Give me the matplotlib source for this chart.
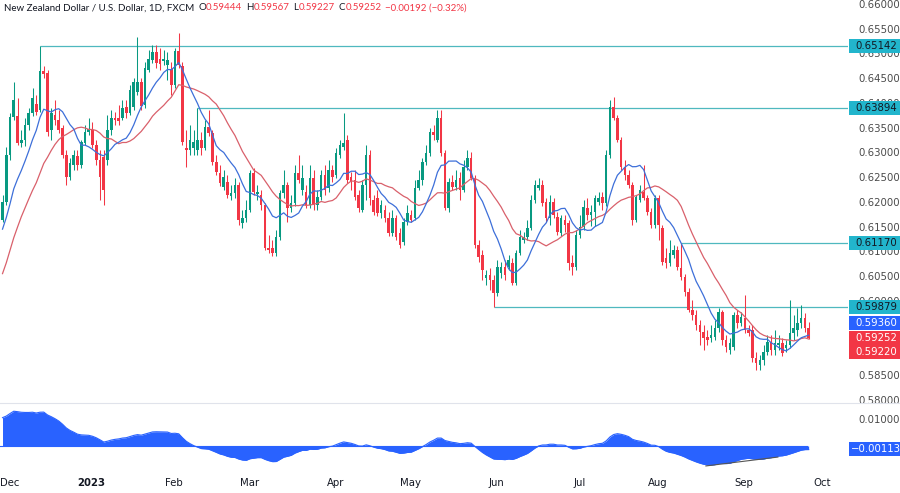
import numpy as np
import pandas as pd
import matplotlib
matplotlib.use("Agg")
import matplotlib.pyplot as plt
from matplotlib import transforms
from matplotlib.patches import Rectangle

plt.rcParams['font.family'] = ['DejaVu Sans']

# ---------------- data ----------------
start_date = "2022-11-30"

opens = [
 .6164,.6200,.6295,.6372,.6374,.6319,.6325,.6356,.6380,.6398,
 .6386,.6465,.6461,.6345,.6376,.6366,.6349,.6295,.6250,.6275,
 .6293,.6275,.6319,.6341,.6345,.6315,.6285,.6291,.6285,.6345,
 .6370,.6370,.6370,.6392,.6380,.6392,.6422,.6442,.6396,.6467,
 .6487,.6503,.6489,.6485,.6477,.6469,.6436,.6505,.6475,.6309,
 .6305,.6309,.6305,.6325,.6309,.6351,.6339,.6281,.6259,.6230,
 .6240,.6212,.6218,.6234,.6158,.6168,.6184,.6259,.6216,.6214,
 .6194,.6107,.6107,.6097,.6129,.6218,.6234,.6188,.6198,.6259,
 .6224,.6220,.6194,.6248,.6194,.6210,.6255,.6228,.6265,.6255,
 .6295,.6311,.6325,.6250,.6244,.6214,.6184,.6234,.6295,.6204,
 .6208,.6178,.6184,.6168,.6137,.6168,.6137,.6119,.6160,.6174,
 .6168,.6228,.6244,.6281,.6299,.6341,.6325,.6370,.6299,.6188,
 .6240,.6230,.6248,.6224,.6271,.6289,.6248,.6113,.6093,.6046,
 .6053,.6042,.6016,.6057,.6069,.6069,.6077,.6036,.6097,.6123,
 .6129,.6147,.6204,.6228,.6234,.6200,.6168,.6200,.6170,.6137,
 .6164,.6158,.6077,.6069,.6133,.6149,.6188,.6174,.6180,.6200,
 .6210,.6198,.6295,.6392,.6370,.6325,.6271,.6255,.6234,.6164,
 .6204,.6220,.6208,.6180,.6153,.6208,.6147,.6087,.6077,.6093,
 .6103,.6067,.6048,.6018,.5982,.5972,.5952,.5937,.5927,.5925,
 .5927,.5945,.5978,.5921,.5901,.5907,.5972,.5956,.5966,.5941,
 .5941,.5885,.5871,.5881,.5897,.5917,.5901,.5911,.5915,.5905,
 .5911,.5935,.5941,.5956,.5966,.59444]

closes = [
 .6200,.6295,.6372,.6406,.6319,.6325,.6356,.6380,.6410,.6382,
 .6465,.6459,.6341,.6380,.6366,.6345,.6295,.6250,.6279,.6295,
 .6275,.6321,.6341,.6347,.6315,.6285,.6250,.6224,.6345,.6370,
 .6366,.6364,.6390,.6380,.6426,.6442,.6442,.6394,.6471,.6489,
 .6503,.6481,.6479,.6489,.6487,.6436,.6505,.6477,.6321,.6305,
 .6325,.6321,.6325,.6309,.6351,.6339,.6281,.6261,.6238,.6250,
 .6214,.6218,.6234,.6164,.6168,.6184,.6259,.6220,.6220,.6194,
 .6107,.6103,.6097,.6129,.6218,.6234,.6188,.6198,.6259,.6244,
 .6248,.6194,.6248,.6194,.6210,.6255,.6224,.6265,.6250,.6299,
 .6315,.6319,.6244,.6240,.6210,.6188,.6234,.6295,.6208,.6180,
 .6178,.6194,.6168,.6137,.6168,.6129,.6113,.6160,.6178,.6164,
 .6228,.6244,.6281,.6299,.6341,.6335,.6370,.6299,.6188,.6240,
 .6230,.6244,.6224,.6271,.6289,.6248,.6113,.6089,.6063,.6053,
 .6042,.6016,.6069,.6069,.6053,.6083,.6036,.6097,.6129,.6129,
 .6147,.6204,.6234,.6234,.6198,.6168,.6200,.6174,.6139,.6168,
 .6153,.6077,.6069,.6133,.6149,.6190,.6174,.6180,.6208,.6208,
 .6198,.6295,.6392,.6370,.6325,.6271,.6255,.6234,.6164,.6210,
 .6224,.6208,.6180,.6153,.6208,.6153,.6079,.6077,.6097,.6103,
 .6069,.6048,.6018,.5982,.5972,.5952,.5937,.5925,.5921,.5931,
 .5945,.5978,.5921,.5907,.5915,.5972,.5956,.5968,.5941,.5935,
 .5885,.5875,.5881,.5897,.5917,.5901,.5915,.5915,.5895,.5911,
 .5935,.5945,.5956,.5966,.5945,.59252]

highs = [
 .6214,.6311,.6380,.6442,.6410,.6345,.6370,.6390,.6430,.6416,
 .65142,.6475,.6467,.6390,.6406,.6386,.6356,.6305,.6289,.6305,
 .6305,.6325,.6356,.6370,.6362,.6325,.6305,.6305,.6376,.6386,
 .6382,.6396,.6406,.6406,.6436,.6450,.6533,.6450,.6483,.6507,
 .6517,.6517,.6511,.6507,.6503,.6483,.6511,.6541,.6483,.6345,
 .6356,.6345,.63894,.6341,.6366,.6386,.6345,.6295,.6275,.6265,
 .6255,.6234,.6248,.6240,.6184,.6204,.6265,.6269,.6234,.6224,
 .6198,.6133,.6123,.6143,.6224,.6265,.6240,.6214,.6275,.6295,
 .6275,.6234,.6275,.6265,.6224,.6265,.6275,.6285,.6275,.6309,
 .6325,.6380,.6335,.6261,.6265,.6224,.6244,.6315,.6305,.6214,
 .6224,.6204,.6194,.6180,.6184,.6174,.6147,.6168,.6194,.6184,
 .6244,.6265,.6289,.6315,.6349,.6356,.6386,.6386,.6305,.6248,
 .6255,.6265,.6261,.6285,.6305,.6301,.6255,.6123,.6103,.6063,
 .6067,.6053,.6083,.6079,.6083,.6093,.6087,.6103,.6143,.6139,
 .6164,.6214,.6244,.6248,.6244,.6208,.6214,.6208,.6180,.6174,
 .6174,.6164,.6093,.6143,.6174,.6204,.6208,.6194,.6214,.6220,
 .6220,.6305,.6406,.6412,.6376,.6331,.6285,.6265,.6240,.6214,
 .6234,.6275,.6214,.6188,.6214,.6214,.6153,.6107,.6123,.6113,
 .6111,.6117,.6055,.6026,.6002,.5982,.5962,.5952,.5941,.5952,
 .5962,.5986,.5982,.5931,.5925,.5978,.5982,.5978,.6012,.5952,
 .5952,.5897,.5891,.5911,.5931,.5931,.5941,.5931,.5925,.5921,
 .6002,.5972,.5986,.5992,.5976,.59567]

lows = [
 .6160,.6194,.6285,.6366,.6315,.6311,.6313,.6345,.6374,.6376,
 .6382,.6450,.6333,.6325,.6356,.6339,.6289,.6234,.6244,.6265,
 .6265,.6269,.6315,.6335,.6309,.6275,.6204,.6194,.6275,.6335,
 .6356,.6356,.6366,.6370,.6376,.6386,.6416,.6386,.6390,.6463,
 .6481,.6471,.6467,.6477,.6446,.6416,.6430,.6471,.6315,.6271,
 .6295,.6295,.6295,.6295,.6305,.6333,.6275,.6255,.6232,.6224,
 .6208,.6204,.6208,.6153,.6147,.6160,.6180,.6214,.6204,.6184,
 .6103,.6097,.6091,.6091,.6123,.6208,.6160,.6180,.6192,.6238,
 .6214,.6188,.6188,.6184,.6184,.6204,.6214,.6220,.6240,.6248,
 .6289,.6305,.6238,.6224,.6204,.6180,.6180,.6204,.6194,.6174,
 .6172,.6168,.6160,.6131,.6131,.6123,.6107,.6113,.6153,.6160,
 .6164,.6224,.6234,.6275,.6293,.6325,.6321,.6293,.6184,.6180,
 .6224,.6224,.6204,.6220,.6265,.6244,.6107,.6079,.6042,.6032,
 .6022,.59879,.6010,.6046,.6042,.6063,.6032,.6032,.6093,.6117,
 .6123,.6143,.6198,.6224,.6192,.6160,.6153,.6168,.6133,.6131,
 .6139,.6063,.6053,.6063,.6127,.6143,.6164,.6151,.6151,.6194,
 .6184,.6192,.6289,.6366,.6321,.6265,.6244,.6228,.6153,.6160,
 .6200,.6204,.6174,.6147,.6147,.6123,.6073,.6067,.6071,.6087,
 .6063,.6042,.6010,.5978,.5962,.5941,.5911,.5901,.5911,.5917,
 .5921,.5937,.5911,.5897,.5893,.5901,.5945,.5950,.5935,.5929,
 .5877,.5861,.5861,.5871,.5891,.5891,.5891,.5901,.5889,.5897,
 .5905,.5921,.5929,.5945,.5937,.59227]

# closes before the visible window (only used to warm up the indicators)
pre_closes = [.5680,.5650,.5700,.5720,.5690,.5750,.5790,.5810,.5830,.5800,.5820,
              .5861,.5871,.5891,.5891,.5911,.5992,.6022,.6063,.6073,.6079,.6063,
              .6093,.6103,.6123,.6153,.6164,.6174,.6184,.6194]

level_values = [0.65142, 0.63894, 0.61170, 0.59879]
level_start_bar = [10, 52, 181, 131]

ma_fast_last = 0.59360
ma_slow_last = 0.59220
osc_last = -0.00113

# 0.590 / 0.595 are hidden behind the last-value badges in the reference
price_ticks = [0.58, 0.585, 0.60, 0.605, 0.61, 0.615, 0.62, 0.625,
               0.63, 0.635, 0.64, 0.645, 0.65, 0.655, 0.66]

title_name = "New Zealand Dollar / U.S. Dollar, 1D, FXCM"
ohlc_text = [("O", "0.59444"), ("H", "0.59567"), ("L", "0.59227"), ("C", "0.59252")]
change_text = "\u22120.00192 (\u22120.32%)"

# divergence trend line in the oscillator panel (bar index, value)
div_x = [187.6, 206.8]
div_y = [-0.0074, -0.0041]

# ---------------- styling ----------------
UP = "#089981"
DOWN = "#f23645"
TEAL = "#4fb8bf"
BADGE = "#22b5cc"
BLUE = "#2962ff"
TXT = "#131722"
GREY = "#4a4a4a"

W, H = 900, 493
fig = plt.figure(figsize=(W / 100, H / 100), dpi=100)
fig.patch.set_facecolor("white")
ax = fig.add_axes([0, 90 / H, 848 / W, 403 / H])
axo = fig.add_axes([0, 23 / H, 848 / W, 67 / H], sharex=ax)

o = np.array(opens); h = np.array(highs); l = np.array(lows); c = np.array(closes)
n = len(c)
x = np.arange(n)
dates = pd.bdate_range(start_date, periods=n)

up = c >= o
cols = np.where(up, UP, DOWN)
body_lo = np.minimum(o, c)
body_hi = np.maximum(o, c)
body_h = np.maximum(body_hi - body_lo, 0.00012)

ax.vlines(x, np.minimum(l, body_lo), np.maximum(h, body_hi), colors=cols, lw=0.75, zorder=3)
ax.bar(x, body_h, bottom=body_lo, width=0.68, color=cols, lw=0, zorder=4)

# moving averages
allc = pd.Series(pre_closes + closes)
npre = len(pre_closes)
sma_fast = allc.rolling(10).mean().values[npre:]
sma_slow = allc.rolling(20).mean().values[npre:]
ax.plot(x, sma_slow, color="#d9606b", lw=0.9, zorder=5)
ax.plot(x, sma_fast, color="#3d6fd9", lw=0.9, zorder=5)

# horizontal levels
for v, s in zip(level_values, level_start_bar):
    ax.hlines(v, s, n + 40, color=TEAL, lw=0.9, zorder=2)

ax.set_xlim(-0.67, 225.5)
ax.set_ylim(0.57939, 0.6608)
for sp in ax.spines.values():
    sp.set_visible(False)
ax.yaxis.tick_right()
ax.set_yticks(price_ticks)
ax.set_yticklabels([f"{t:.5f}" for t in price_ticks])
ax.tick_params(axis="y", length=0, pad=7.5, labelsize=7.3, labelcolor=GREY)
ax.tick_params(axis="x", length=0, labelbottom=False)

# oscillator (MACD line 12/26 drawn as area)
ema12 = allc.ewm(span=12, adjust=False).mean()
ema26 = allc.ewm(span=26, adjust=False).mean()
macd = (ema12 - ema26).values[npre:]
axo.fill_between(x, macd, 0, color=BLUE, lw=0, zorder=2)
axo.plot(x, macd, color=BLUE, lw=0.8, zorder=3)
axo.axhline(0, color=BLUE, lw=0.8, zorder=3, xmax=(n - 0.67) / 226.17)
axo.plot(div_x, div_y, color="#555555", lw=0.8, zorder=4)
axo.set_ylim(-0.0089, 0.01595)
for sp in axo.spines.values():
    sp.set_visible(False)
axo.yaxis.tick_right()
axo.set_yticks([0.01])
axo.set_yticklabels(["0.01000"])
axo.tick_params(axis="y", length=0, pad=7.5, labelsize=7.3, labelcolor=GREY)

# month labels
month_pos, month_lab = [], []
for i in range(1, n):
    if dates[i].month != dates[i - 1].month:
        month_pos.append(i + 0.8)
        month_lab.append("2023" if dates[i].month == 1 else dates[i].strftime("%b"))
month_pos.append(n + 2.5)
month_lab.append((dates[-1] + pd.offsets.MonthBegin(1)).strftime("%b"))
axo.set_xticks(month_pos)
axo.set_xticklabels(month_lab)
axo.tick_params(axis="x", length=0, pad=6, labelsize=7.3, labelcolor=TXT)
for t in axo.get_xticklabels():
    if t.get_text() == "2023":
        t.set_fontweight("bold")

# panel separator
fig.add_artist(plt.Line2D([0, 1], [1 - 403 / H, 1 - 403 / H], color="#e0e3eb", lw=0.8,
                          transform=fig.transFigure))

# badges on the price scale
def badge(axis, value, text, face, tcolor, disp=None):
    tr = transforms.blended_transform_factory(fig.transFigure, axis.transData)
    ypos = value if disp is None else disp
    y0, y1 = axis.get_ylim()
    hh = 14 / (axis.get_position().height * H) * (y1 - y0)
    r = Rectangle((849 / W, ypos - hh / 2), 51 / W, hh, transform=tr, facecolor=face,
                  edgecolor="none", zorder=10, clip_on=False)
    fig.add_artist(r)
    fig.text(876 / W, ypos, text, transform=tr, ha="center", va="center",
             fontsize=7.3, color=tcolor, zorder=11)

for v in level_values:
    badge(ax, v, f"{v:.5f}", BADGE, TXT)
badge(ax, ma_fast_last, f"{ma_fast_last:.5f}", BLUE, "white", disp=0.59560)
badge(ax, closes[-1], f"{closes[-1]:.5f}", DOWN, "white")
badge(ax, ma_slow_last, f"{ma_slow_last:.5f}", DOWN, "white", disp=0.58960)
badge(axo, osc_last, f"{osc_last:.5f}".replace("-", "\u2212"), BLUE, "white")

# header text, laid out piece by piece
ty = 1 - 8 / H
renderer = fig.canvas.get_renderer()
pieces = [(title_name, TXT, 0)]
for k, v in ohlc_text:
    pieces.append((k, TXT, 4))
    pieces.append((v, DOWN, 0))
pieces.append((change_text, DOWN, 4))
xc = 4
for txt, col, gap in pieces:
    xc += gap
    t = fig.text(xc / W, ty, txt, fontsize=7.0, color=col, va="center", ha="left",
                 family=["Lato", "DejaVu Sans"])
    xc += t.get_window_extent(renderer).width

fig.savefig("out.png", dpi=100, facecolor="white")
